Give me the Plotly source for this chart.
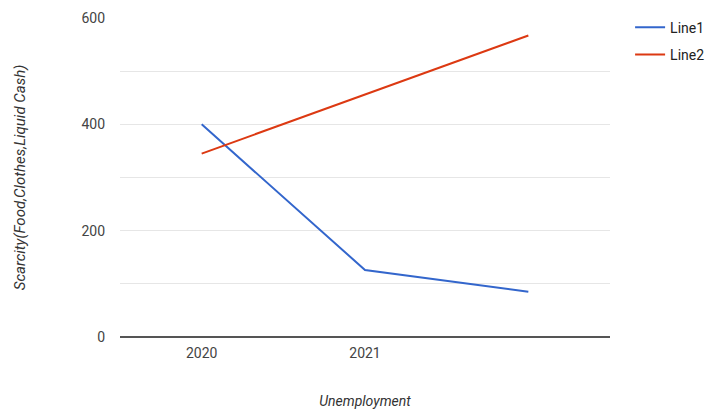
import plotly.graph_objects as go

# Category labels shown on the x axis (third point is unlabeled)
categories = ["2020", "2021", ""]
line1 = [400, 126, 85]
line2 = [345, 456, 567]

x_pos = list(range(len(categories)))

fig = go.Figure()
fig.add_trace(go.Scatter(
    x=x_pos, y=line1, mode="lines", name="Line1",
    line=dict(color="#3366cc", width=2), legendgroup="a",
))
fig.add_trace(go.Scatter(
    x=x_pos, y=line2, mode="lines", name="Line2",
    line=dict(color="#dc3912", width=2), legendgroup="b",
))

fig.update_layout(
    width=710, height=410,
    margin=dict(l=120, r=100, t=18, b=73, autoexpand=False),
    paper_bgcolor="white", plot_bgcolor="white",
    font=dict(family="Roboto, Arial, sans-serif", size=14, color="#444"),
    legend=dict(
        x=1.041, y=1.02, xanchor="left", yanchor="top",
        font=dict(size=14, color="#222"),
        tracegroupgap=6, bgcolor="rgba(0,0,0,0)",
    ),
    xaxis=dict(
        range=[-0.5, 2.5],
        tickmode="array", tickvals=x_pos, ticktext=categories,
        showgrid=False, zeroline=False, showline=False,
        ticks="", ticklen=0, ticklabelstandoff=6,
        title=dict(text="<i>Unemployment</i>", font=dict(size=14, color="#333"), standoff=36),
    ),
    yaxis=dict(
        range=[0, 600],
        tickmode="array", tickvals=[0, 100, 200, 300, 400, 500, 600],
        ticktext=["0", "", "200", "", "400", "", "600"],
        showgrid=True, gridcolor="#e6e6e6", gridwidth=1,
        zeroline=True, zerolinecolor="#555", zerolinewidth=2,
        showline=False, ticks="", ticklabelstandoff=14,
        title=dict(text="<i>Scarcity(Food,Clothes,Liquid Cash)</i>", font=dict(size=15, color="#333"), standoff=52),
    ),
)

fig.write_html("out.html")
